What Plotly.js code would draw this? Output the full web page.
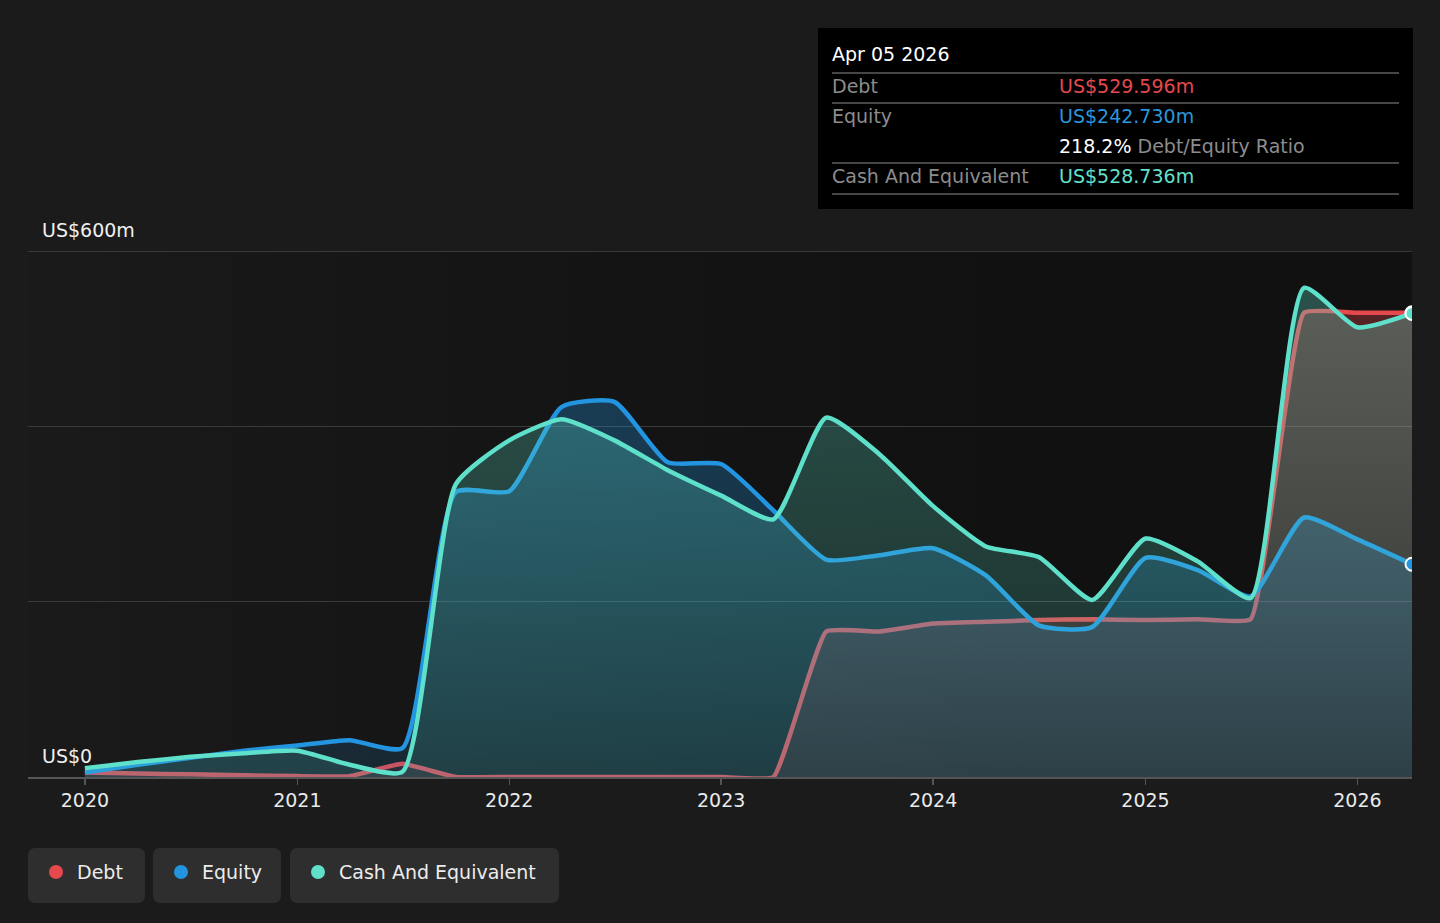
<!DOCTYPE html>
<html>
<head>
<meta charset="utf-8">
<script src="https://cdn.plot.ly/plotly-3.0.1.min.js"></script>
<style>
  html, body { margin: 0; padding: 0; background: #1b1b1b; }
  body { width: 1440px; height: 923px; position: relative; overflow: hidden;
         font-family: "DejaVu Sans", sans-serif; }
  #plotbg { position: absolute; left: 28px; top: 251px; width: 1384px; height: 526px;
            background: linear-gradient(to right, #1a1a1a 0%, #151515 35%, #111111 70%, #111111 100%); }
  #chart { position: absolute; left: 0; top: 0; width: 1440px; height: 923px; }
  .tip { position: absolute; left: 818px; top: 28px; width: 595px; height: 181px; background: #000; }
  .tip .date { position: absolute; left: 14px; top: 15px; color: #fff; font-size: 19px; }
  .tip .sep { position: absolute; left: 14px; width: 567px; height: 1.5px; background: #464646; }
  .tip .row { position: absolute; left: 14px; font-size: 19px; color: #8c8c8c; line-height: 22px; }
  .tip .val { position: absolute; left: 241px; font-size: 19px; line-height: 22px; white-space: nowrap; }
  .legend { position: absolute; top: 848px; height: 55px; background: #2e2e2e; border-radius: 7px;
            color: #ececec; font-size: 19px; line-height: 49px; }
  .legend .dot { position: absolute; left: 21px; top: 17px; width: 14px; height: 14px; border-radius: 50%; }
  .legend span { position: absolute; left: 49px; white-space: nowrap; }
</style>
</head>
<body>
<div id="plotbg"></div>
<div id="chart"></div>

<div class="tip">
  <div class="date">Apr 05 2026</div>
  <div class="sep" style="top:44px"></div>
  <div class="row" style="top:47px">Debt</div>
  <div class="val" style="top:47px;color:#e5484d">US$529.596m</div>
  <div class="sep" style="top:74px"></div>
  <div class="row" style="top:77px">Equity</div>
  <div class="val" style="top:77px;color:#2b96dc">US$242.730m</div>
  <div class="val" style="top:107px;color:#fff">218.2% <span style="color:#8c8c8c">Debt/Equity Ratio</span></div>
  <div class="sep" style="top:134px"></div>
  <div class="row" style="top:137px">Cash And Equivalent</div>
  <div class="val" style="top:137px;color:#63e0cb">US$528.736m</div>
  <div class="sep" style="top:165px"></div>
</div>

<div class="legend" style="left:28px;width:117px"><div class="dot" style="background:#e5484d"></div><span>Debt</span></div>
<div class="legend" style="left:153px;width:128px"><div class="dot" style="background:#2394df"></div><span>Equity</span></div>
<div class="legend" style="left:290px;width:269px"><div class="dot" style="background:#5fe0ca"></div><span>Cash And Equivalent</span></div>

<script>
// quarterly balance sheet points, last one is the latest report
var dates = [
    '2020-01-01', '2020-04-01', '2020-07-01', '2020-10-01',
    '2021-01-01', '2021-04-01', '2021-07-01', '2021-10-01',
    '2022-01-01', '2022-04-01', '2022-07-01', '2022-10-01',
    '2023-01-01', '2023-04-01', '2023-07-01', '2023-10-01',
    '2024-01-01', '2024-04-01', '2024-07-01', '2024-10-01',
    '2025-01-01', '2025-04-01', '2025-07-01', '2025-10-01',
    '2026-01-01', '2026-04-05'
];

// values in US$ millions
var debt = [5, 4, 3, 2, 1, 1, 15, 0, 0, 0, 0, 0, 0, 0, 166, 166, 175, 177, 179, 180, 179, 180, 180, 529.6, 529.6, 529.596];
var equity = [5, 14, 22, 30, 36, 42, 33, 325, 326, 422, 428, 359, 357, 304, 248, 253, 261, 230, 173, 171, 250, 236, 206, 296, 271, 242.73];
var cash = [10, 17, 23, 27, 30, 14, 6, 334, 384, 408, 384, 350, 321, 294, 410, 368, 309, 263, 251, 202, 272, 246, 204, 558, 513, 528.736];

var yTicks = [0, 600];
var yTickText = ['US$0', 'US$600m'];

var colors = {
    debt: [229, 72, 77],
    equity: [35, 148, 223],
    cash: [95, 224, 202]
};

function rgba(c, a) {
    return "rgba(" + c.join(",") + "," + a + ")";
}

function areaTrace(name, values, color, aLow, aHigh, smoothing) {
    return {
        x: dates,
        y: values,
        name: name,
        type: 'scatter',
        mode: 'lines',
        fill: 'tozeroy',
        fillgradient: {
            type: 'vertical',
            start: 0,
            stop: 600,
            colorscale: [[0, rgba(color, aLow)], [1, rgba(color, aHigh)]]
        },
        line: { color: rgba(color, 1), width: 4.5, shape: 'spline', smoothing: smoothing },
        hoverinfo: 'skip'
    };
}

function endMarker(values, color) {
    return {
        x: [dates[dates.length - 1]],
        y: [values[values.length - 1]],
        type: 'scatter',
        mode: 'markers',
        marker: { size: 13, color: rgba(color, 1), line: { color: '#ffffff', width: 2 } },
        hoverinfo: 'skip'
    };
}

var traces = [
    areaTrace('Debt', debt, colors.debt, 0.1, 0.36, 0.35),
    areaTrace('Equity', equity, colors.equity, 0.14, 0.38, 0.55),
    areaTrace('Cash And Equivalent', cash, colors.cash, 0.13, 0.33, 0.55),
    endMarker(debt, colors.debt),
    endMarker(equity, colors.equity),
    endMarker(cash, colors.cash)
];

var annotations = [];
for (let i = 0; i < yTicks.length; i++) {
    annotations.push({
        xref: 'paper', yref: 'y',
        x: 0, y: yTicks[i],
        xanchor: 'left', yanchor: 'bottom',
        xshift: 12, yshift: 8,
        text: yTickText[i],
        showarrow: false,
        font: { family: 'DejaVu Sans', size: 19, color: '#f0f0f0' }
    });
}

var layout = {
    width: 1440,
    height: 923,
    margin: { l: 28, r: 28, t: 251, b: 146, pad: 0 },
    paper_bgcolor: 'rgba(0,0,0,0)',
    plot_bgcolor: 'rgba(0,0,0,0)',
    showlegend: false,
    hovermode: false,
    font: { family: 'DejaVu Sans', color: '#e8e8e8' },
    xaxis: {
        type: 'date',
        range: ['2019-09-25', '2026-04-05'],
        dtick: 'M12',
        tick0: '2020-01-01',
        tickformat: '%Y',
        ticks: 'outside',
        ticklen: 6,
        tickwidth: 1.5,
        tickcolor: '#555555',
        showline: true,
        linecolor: '#555555',
        linewidth: 1.5,
        showgrid: false,
        zeroline: false,
        tickfont: { family: 'DejaVu Sans', size: 19, color: '#eaeaea' },
        fixedrange: true
    },
    yaxis: {
        range: [0, 600],
        dtick: 200,
        showticklabels: false,
        gridcolor: '#3a3a3a',
        gridwidth: 1.5,
        zeroline: false,
        fixedrange: true
    },
    shapes: [{
        // top gridline sits on the range edge, Plotly skips it
        type: 'line', xref: 'paper', yref: 'y',
        x0: 0, x1: 1, y0: yTicks[1], y1: yTicks[1],
        line: { color: '#444444', width: 1.5 },
        layer: 'below'
    }],
    annotations: annotations
};

Plotly.newPlot('chart', traces, layout, { displayModeBar: false, staticPlot: true });
</script>
</body>
</html>
